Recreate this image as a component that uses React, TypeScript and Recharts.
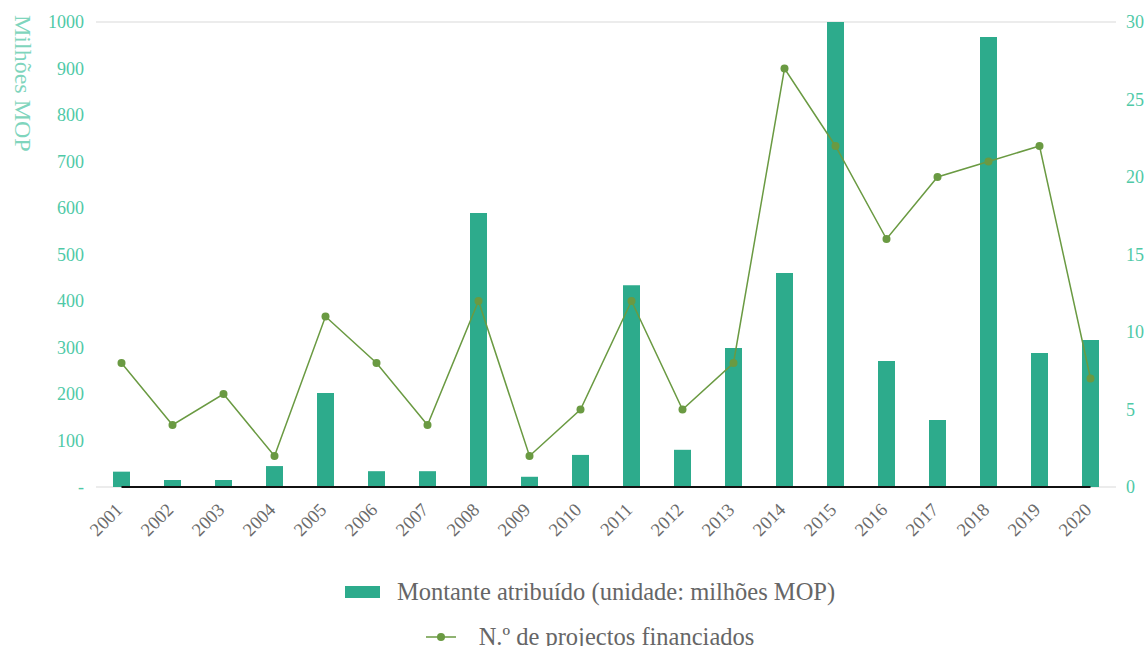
import React from 'react';
import { ComposedChart, Bar, Line, XAxis, YAxis, CartesianGrid, Legend, ReferenceLine } from 'recharts';

const years = ['2001','2002','2003','2004','2005','2006','2007','2008','2009','2010','2011','2012','2013','2014','2015','2016','2017','2018','2019','2020'];
const amounts = [33, 15, 15, 45, 202, 34, 34, 589, 22, 69, 434, 80, 299, 460, 1000, 271, 144, 968, 288, 316];
const projects = [8, 4, 6, 2, 11, 8, 4, 12, 2, 5, 12, 5, 8, 27, 22, 16, 20, 21, 22, 7];
const leftTicks = [0, 100, 200, 300, 400, 500, 600, 700, 800, 900, 1000];
const rightTicks = [0, 5, 10, 15, 20, 25, 30];

const barName = 'Montante atribuído (unidade: milhões MOP)';
const lineName = 'N.º de projectos financiados';
const yLabel = 'Milhões MOP';

const data = years.map((y, i) => ({ year: y, amount: amounts[i], projects: projects[i] }));

const FONT = "'Liberation Serif', serif";
const BAR = '#2dab8c';
const LINE = '#6a9a42';
const TICK = '#4fc9a7';

const renderLegend = () => (
  <div style={{ fontFamily: FONT, fontSize: 24.5, color: '#666', paddingTop: 22, paddingLeft: 34 }}>
    <div style={{ display: 'flex', justifyContent: 'center', alignItems: 'center', height: 45, whiteSpace: 'nowrap' }}>
      <span style={{ display: 'inline-block', width: 35, height: 12, background: BAR, marginRight: 17 }} />
      <span>{barName}</span>
    </div>
    <div style={{ display: 'flex', justifyContent: 'center', alignItems: 'center', height: 45, whiteSpace: 'nowrap' }}>
      <svg width={30} height={12} style={{ marginRight: 23 }}>
        <line x1={0} y1={6} x2={30} y2={6} stroke={LINE} strokeWidth={1.5} />
        <circle cx={15} cy={6} r={4} fill={LINE} />
      </svg>
      <span>{lineName}</span>
    </div>
  </div>
);

const YLabel = (props: any) => {
  const vb = props.viewBox || {};
  const x = (vb.x || 0) + 15;
  const y = (vb.y || 0) - 7;
  return (
    <text x={x} y={y} transform={`rotate(90 ${x} ${y})`} fill="#7fd5bd" fontFamily={FONT} fontSize={24} textAnchor="start">
      {yLabel}
    </text>
  );
};

const XTick = (props: any) => {
  const { x, y, payload } = props;
  const bx = x + 2;
  const by = y + 24;
  return (
    <text
      x={bx}
      y={by}
      transform={`rotate(-45 ${bx} ${by})`}
      textAnchor="end"
      fill="#6b6b6b"
      fontFamily={FONT}
      fontSize={18.5}
    >
      {payload.value}
    </text>
  );
};

export default function App() {
  return (
    <div style={{ position: 'absolute', left: 0, top: 0, width: 1146, height: 646, overflow: 'hidden', background: '#fff' }}>
      <ComposedChart
        width={1146}
        height={646}
        data={data}
        margin={{ top: 22, right: 0, left: 0, bottom: 0 }}
        style={{ fontFamily: FONT }}
      >
        <CartesianGrid vertical={false} stroke="#e6e6e6" strokeWidth={1.5} />
        <XAxis
          dataKey="year"
          axisLine={false}
          tickLine={false}
          interval={0}
          height={60}
          tickSize={0}
          tickMargin={0}
          tick={<XTick />}
        />
        <YAxis
          yAxisId="left"
          domain={[0, 1000]}
          ticks={leftTicks}
          width={96}
          axisLine={false}
          tickLine={false}
          tickSize={6}
          tickMargin={6}
          interval={0}
          tick={{ fill: TICK, fontSize: 18, fontFamily: FONT }}
          tickFormatter={(v: number) => (v === 0 ? '-' : String(v))}
          label={<YLabel />}
        />
        <YAxis
          yAxisId="right"
          orientation="right"
          domain={[0, 30]}
          ticks={rightTicks}
          width={30}
          axisLine={false}
          tickLine={false}
          tickSize={6}
          tickMargin={4}
          interval={0}
          tick={{ fill: TICK, fontSize: 18, fontFamily: FONT }}
        />
        <Legend verticalAlign="bottom" height={99} content={renderLegend} />
        <Bar yAxisId="left" dataKey="amount" name={barName} fill={BAR} barSize={17} isAnimationActive={false} />
        <ReferenceLine
          yAxisId="left"
          segment={[{ x: years[0], y: 0 }, { x: years[years.length - 1], y: 0 }]}
          stroke="#111"
          strokeWidth={2}
        />
        <Line
          yAxisId="right"
          dataKey="projects"
          name={lineName}
          stroke={LINE}
          strokeWidth={1.5}
          dot={{ r: 4, fill: LINE, stroke: LINE, strokeWidth: 0 }}
          isAnimationActive={false}
        />
      </ComposedChart>
    </div>
  );
}
